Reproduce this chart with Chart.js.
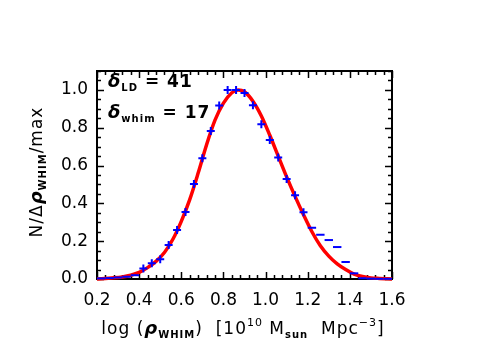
<!DOCTYPE html>
<html><head><meta charset="utf-8">
<script src="https://cdn.jsdelivr.net/npm/chart.js@4/dist/chart.umd.min.js"></script>
<style>html,body{margin:0;padding:0;background:#fff;} #wrap{width:491px;height:350px;position:relative;}</style>
</head><body><div id="wrap"><canvas id="c" width="491" height="350"></canvas></div>
<script>
// Histogram bins (blue markers)
const binX = [0.22,0.26,0.30,0.34,0.38,0.42,0.46,0.50,0.54,0.58,0.62,0.66,0.70,0.74,0.78,0.82,0.86,0.90,0.94,0.98,1.02,1.06,1.10,1.14,1.18,1.22,1.26,1.30,1.34,1.38,1.42,1.46,1.50,1.54,1.58];
const binY = [0.003,0.005,0.008,0.012,0.020,0.055,0.083,0.104,0.180,0.259,0.354,0.503,0.639,0.783,0.917,1.000,1.000,0.983,0.919,0.819,0.735,0.642,0.529,0.443,0.353,0.271,0.234,0.206,0.169,0.090,0.030,0.004,0.002,0.001,0.001];
// Fitted curve (red line)
const fitX = [0.20,0.24,0.28,0.32,0.36,0.40,0.44,0.48,0.52,0.56,0.60,0.64,0.68,0.72,0.76,0.80,0.84,0.87,0.90,0.94,0.98,1.02,1.06,1.10,1.14,1.18,1.22,1.26,1.30,1.34,1.38,1.42,1.46,1.50,1.54,1.58,1.60];
const fitY = [0.000,0.003,0.006,0.011,0.020,0.035,0.060,0.093,0.140,0.210,0.305,0.420,0.560,0.710,0.840,0.930,0.985,1.000,0.990,0.940,0.862,0.760,0.650,0.540,0.437,0.340,0.250,0.176,0.121,0.080,0.050,0.026,0.013,0.006,0.003,0.001,0.000];
const xTicks = [0.2,0.4,0.6,0.8,1.0,1.2,1.4,1.6];
const yTicks = [0.0,0.2,0.4,0.6,0.8,1.0];
const xMinorStep = 0.04, yMinorStep = 0.05;

function richWidth(ctx, segs){
  let w=0; for(const s of segs){ctx.font=s.f; w+=ctx.measureText(s.t).width;} return w;
}
function drawRich(ctx, segs, x, y, align){
  ctx.save();
  ctx.letterSpacing='1px';
  const w = richWidth(ctx, segs);
  let cx = align==='center' ? x - w/2 : x;
  ctx.textBaseline='alphabetic'; ctx.textAlign='left'; ctx.fillStyle='#000';
  for(const s of segs){ ctx.font=s.f; ctx.fillText(s.t, cx, y + (s.dy||0)); cx += ctx.measureText(s.t).width; }
  ctx.restore();
}
const F = 'DejaVu Sans';
const N17 = `17px "${F}"`, BI18 = `italic bold 18px "${F}"`, B10 = `bold 10px "${F}"`, N11 = `11px "${F}"`, B17 = `bold 17px "${F}"`;

const frame = {
  id:'frame',
  beforeDatasetsDraw(chart){
    const {ctx, chartArea:a, scales:{x, y}} = chart;
    ctx.save();
    ctx.strokeStyle='#000'; ctx.lineWidth=2;
    ctx.strokeRect(a.left, a.top, a.right-a.left, a.bottom-a.top);
    ctx.lineWidth=1.5;
    ctx.beginPath();
    const nx = Math.round((x.max-x.min)/xMinorStep);
    for(let i=0;i<=nx;i++){
      const v = x.min + i*xMinorStep; const px = Math.round(x.getPixelForValue(v))+0.5;
      const major = xTicks.some(t=>Math.abs(t-v)<1e-6); const L = major?7:4;
      ctx.moveTo(px,a.bottom); ctx.lineTo(px,a.bottom-L);
      ctx.moveTo(px,a.top); ctx.lineTo(px,a.top+L);
    }
    const ny = Math.floor((y.max-y.min)/yMinorStep+1e-6);
    for(let i=0;i<=ny;i++){
      const v = y.min + i*yMinorStep; const py = Math.round(y.getPixelForValue(v))+0.5;
      const major = yTicks.some(t=>Math.abs(t-v)<1e-6); const L = major?7:4;
      ctx.moveTo(a.left,py); ctx.lineTo(a.left+L,py);
      ctx.moveTo(a.right,py); ctx.lineTo(a.right-L,py);
    }
    ctx.stroke();
    ctx.restore();
  },
  afterDraw(chart){
    const ctx = chart.ctx;
    // annotations
    drawRich(ctx,[{t:'δ',f:BI18},{t:'LD',f:B10,dy:4},{t:' = 41',f:B17}],108,87,'left');
    drawRich(ctx,[{t:'δ',f:BI18},{t:'whim',f:B10,dy:4},{t:' = 17',f:B17}],108,118,'left');
    // x title
    drawRich(ctx,[{t:'log (',f:N17},{t:'ρ',f:BI18},{t:'WHIM',f:B10,dy:4},{t:')  [10',f:N17},{t:'10',f:N11,dy:-8},{t:' M',f:N17},{t:'sun',f:B10,dy:4},{t:'  Mpc',f:N17},{t:'−3',f:N11,dy:-8},{t:']',f:N17}],243,334,'center');
    // y title
    ctx.save();
    ctx.translate(42,172); ctx.rotate(-Math.PI/2);
    drawRich(ctx,[{t:'N/Δ',f:N17},{t:'ρ',f:BI18},{t:'WHIM',f:B10,dy:4},{t:'/max',f:N17}],0,0,'center');
    ctx.restore();
  }
};

new Chart(document.getElementById('c'), {
  type:'scatter',
  data:{datasets:[
    {label:'hist', data: binX.map((v,i)=>({x:v,y:binY[i]})), showLine:false,
     pointStyle: c => { const v = binX[c.dataIndex]; return (v < 0.40 || v > 1.20) ? 'line' : 'cross'; },
     pointRadius: c => { const v = binX[c.dataIndex]; return (v < 0.40 || v > 1.20) ? 4.2 : 4; },
     pointBorderColor:'#0000ff', pointBackgroundColor:'#0000ff', pointBorderWidth:2, order:0, clip:false},
    {label:'fit', data: fitX.map((v,i)=>({x:v,y:fitY[i]})), showLine:true, pointRadius:0,
     borderColor:'#ff0000', borderWidth:3.5, cubicInterpolationMode:'monotone', order:1, clip:false}
  ]},
  options:{
    responsive:false, animation:false, devicePixelRatio:1,
    layout:{padding:{top:71,right:99,left:0,bottom:0}},
    plugins:{legend:{display:false}, tooltip:{enabled:false}},
    scales:{
      x:{type:'linear', min:0.2, max:1.6,
         afterBuildTicks: s => { s.ticks = xTicks.map(v=>({value:v})); },
         afterFit: s => { s.height = 71; },
         grid:{display:false, drawTicks:false}, border:{display:false},
         ticks:{padding:11, color:'#000', font:{family:F, size:17}, maxRotation:0, autoSkip:false, callback:v=>v.toFixed(1)}},
      y:{type:'linear', min:0, max:1.1,
         afterBuildTicks: s => { s.ticks = yTicks.map(v=>({value:v})); },
         afterFit: s => { s.width = 97; },
         grid:{display:false, drawTicks:false}, border:{display:false},
         ticks:{padding:9, color:'#000', font:{family:F, size:17}, autoSkip:false, callback:v=>v.toFixed(1)}}
    }
  },
  plugins:[frame]
});
</script></body></html>
